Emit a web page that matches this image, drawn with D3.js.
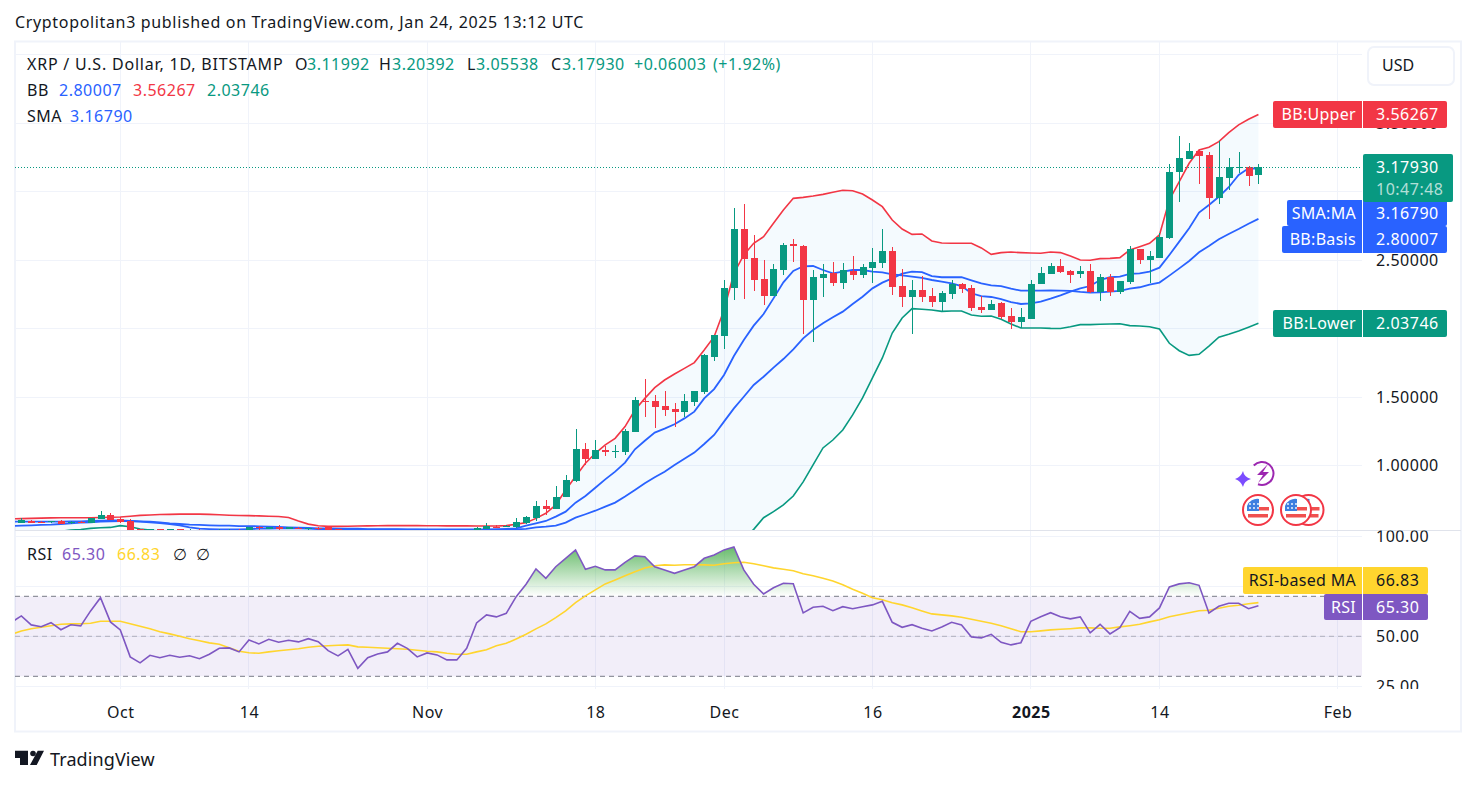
<!DOCTYPE html>
<html>
<head>
<meta charset="utf-8">
<script src="https://d3js.org/d3.v7.min.js"></script>
<style>
  html, body { margin: 0; background: #fff; }
  text { font-family: "Noto Sans", sans-serif; }
</style>
</head>
<body>
<script>
// daily candles, 20 Sep 2024 to 24 Jan 2025
var firstDay = Date.UTC(2024, 8, 20);
var lastDay = Date.UTC(2025, 0, 24);

var opens = [
  .585,.583,.595,.590,.587,.595,.578,.590,.583,.609,.639,
  .609,.592,.535,.520,.533,.525,.533,.525,.532,.520,.525,.525,.531,.531,.548,.539,.548,.539,.547,.535,.543,.548,.539,.515,.523,.505,.512,.518,.510,.520,.513,
  .505,.500,.498,.490,.500,.520,.539,.551,.554,.554,.580,.619,.704,.683,.770,.887,1.120,1.047,1.113,1.099,1.099,1.245,1.471,1.471,1.434,1.412,1.391,1.464,1.537,1.792,
  1.945,2.296,2.726,2.515,2.361,2.237,2.427,2.617,2.602,2.208,2.369,2.405,2.332,2.420,2.391,2.442,2.478,2.566,2.310,2.230,2.281,2.237,2.193,2.252,2.325,2.296,2.157,2.135,2.186,2.091,2.048,
  2.069,2.325,2.398,2.456,2.420,2.398,2.420,2.267,2.376,2.267,2.340,2.580,2.500,2.515,2.661,3.142,3.237,3.296,3.267,2.953,3.099,3.172,3.179,3.11992
];
var highs = [
  .600,.614,.602,.595,.597,.600,.595,.595,.620,.670,.653,
  .626,.607,.540,.538,.536,.538,.540,.534,.534,.532,.533,.535,.533,.552,.558,.553,.563,.553,.553,.546,.548,.551,.540,.532,.528,.515,.522,.520,.525,.522,.515,
  .510,.505,.500,.505,.520,.551,.578,.563,.566,.614,.631,.741,.748,.850,.931,1.266,1.164,1.186,1.142,1.150,1.266,1.500,1.631,1.515,1.544,1.456,1.522,1.544,1.814,1.953,
  2.354,2.880,2.909,2.682,2.500,2.471,2.624,2.653,2.610,2.427,2.471,2.485,2.478,2.529,2.471,2.588,2.726,2.595,2.434,2.354,2.383,2.296,2.274,2.354,2.332,2.318,2.237,2.208,2.193,2.150,2.150,
  2.354,2.449,2.478,2.507,2.427,2.456,2.471,2.398,2.398,2.347,2.602,2.580,2.566,2.697,3.201,3.405,3.354,3.303,3.288,3.369,3.245,3.288,3.186,3.20392
];
var lows = [
  .575,.583,.578,.580,.582,.573,.575,.580,.580,.609,.602,
  .583,.520,.500,.515,.520,.520,.520,.520,.510,.510,.520,.520,.520,.531,.525,.535,.525,.535,.535,.530,.525,.525,.515,.510,.490,.500,.510,.500,.508,.510,.500,
  .495,.495,.485,.485,.495,.515,.535,.544,.550,.544,.573,.597,.639,.683,.770,.880,1.004,1.047,1.069,1.055,1.077,1.245,1.354,1.274,1.361,1.281,1.354,1.434,1.522,1.763,
  1.850,2.208,2.215,2.274,2.172,2.237,2.391,2.485,1.960,1.901,2.230,2.310,2.288,2.354,2.369,2.332,2.442,2.245,2.157,1.960,2.193,2.157,2.128,2.215,2.259,2.128,2.113,2.135,2.069,1.996,2.004,
  2.069,2.325,2.398,2.405,2.332,2.369,2.257,2.201,2.237,2.252,2.325,2.471,2.330,2.515,2.653,2.923,3.237,3.055,2.799,2.909,3.011,3.135,3.040,3.05538
];
var closes = [
  .598,.602,.583,.585,.592,.575,.590,.583,.617,.639,.602,
  .590,.529,.525,.534,.525,.533,.525,.530,.525,.528,.528,.530,.527,.548,.541,.548,.539,.548,.539,.543,.535,.529,.525,.525,.505,.512,.518,.510,.520,.513,.505,
  .500,.498,.490,.500,.515,.544,.561,.546,.561,.585,.624,.704,.683,.770,.894,1.120,1.047,1.113,1.101,1.106,1.252,1.478,1.464,1.427,1.405,1.391,1.471,1.544,1.807,1.953,
  2.296,2.726,2.507,2.354,2.237,2.434,2.610,2.602,2.208,2.376,2.398,2.332,2.427,2.391,2.449,2.485,2.566,2.303,2.230,2.281,2.230,2.193,2.259,2.325,2.288,2.150,2.135,2.179,2.084,2.048,2.084,
  2.325,2.405,2.456,2.412,2.391,2.420,2.264,2.376,2.267,2.347,2.580,2.500,2.529,2.668,3.142,3.245,3.296,3.259,2.953,3.106,3.179,3.179,3.113,3.17930
];

var bbUpper = [
  .611,.612,.614,.616,.618,.619,.619,.619,.619,.620,.622,
  .624,.630,.636,.639,.642,.643,.645,.646,.645,.643,.640,.637,.635,.634,.632,.630,.628,.620,.595,.572,.560,.556,.556,.557,.558,.559,.560,.561,.561,.561,.561,
  .560,.560,.559,.559,.559,.558,.558,.558,.561,.571,.583,.614,.651,.712,.821,.919,1.016,1.089,1.150,1.198,1.284,1.405,1.490,1.568,1.624,1.668,1.709,1.751,1.843,1.940,
  2.135,2.403,2.537,2.622,2.670,2.768,2.865,2.950,2.957,2.967,2.979,2.994,3.009,3.006,2.982,2.938,2.889,2.792,2.726,2.687,2.690,2.639,2.624,2.622,2.622,2.622,2.588,2.541,2.554,2.558,2.554,
  2.551,2.549,2.558,2.554,2.529,2.500,2.498,2.510,2.512,2.517,2.573,2.597,2.622,2.683,2.938,3.072,3.206,3.303,3.323,3.364,3.430,3.486,3.527,3.56267
];
var bbBasis = [
  .558,.561,.563,.566,.568,.573,.578,.583,.585,.590,.592,
  .595,.595,.592,.590,.585,.578,.573,.568,.566,.563,.561,.561,.558,.558,.556,.553,.551,.549,.546,.544,.541,.541,.539,.539,.539,.536,.536,.536,.536,.534,.534,
  .534,.534,.534,.534,.534,.534,.534,.533,.532,.534,.537,.549,.554,.561,.583,.619,.644,.670,.700,.729,.773,.821,.870,.914,.955,1.004,1.050,1.094,1.157,1.223,
  1.320,1.417,1.502,1.588,1.648,1.714,1.777,1.848,1.928,1.989,2.038,2.082,2.123,2.179,2.232,2.293,2.335,2.366,2.400,2.415,2.412,2.383,2.374,2.374,2.374,2.352,2.330,2.315,2.310,2.291,2.276,
  2.276,2.276,2.279,2.276,2.274,2.267,2.262,2.264,2.269,2.274,2.291,2.301,2.320,2.335,2.386,2.439,2.493,2.556,2.602,2.651,2.690,2.726,2.765,2.80007
];
var bbLower = [
  .498,.500,.505,.510,.515,.520,.529,.533,.541,.546,.548,
  .561,.553,.536,.529,.520,.515,.512,.510,.510,.510,.510,.512,.512,.512,.515,.515,.515,.515,.515,.515,.514,.512,.510,.508,.505,.503,.502,.500,.500,.500,.500,
  .500,.500,.500,.500,.500,.500,.500,.498,.495,.490,.480,.470,.460,.445,.420,.400,.380,.365,.350,.340,.335,.320,.310,.300,.300,.300,.305,.310,.315,.320,
  .330,.380,.460,.534,.619,.663,.712,.777,.880,1.004,1.128,1.186,1.259,1.369,1.493,1.639,1.785,1.967,2.077,2.145,2.140,2.135,2.125,2.128,2.128,2.099,2.089,2.091,2.067,2.033,2.004,
  2.004,2.004,2.001,2.000,2.013,2.028,2.028,2.031,2.033,2.035,2.021,2.018,2.013,1.996,1.892,1.838,1.804,1.812,1.872,1.936,1.958,1.982,2.009,2.03746
];
var smaLine = [
  .590,.590,.590,.590,.590,.590,.592,.592,.595,.597,.600,
  .600,.595,.590,.585,.580,.573,.563,.549,.539,.536,.534,.534,.534,.536,.539,.539,.541,.541,.541,.539,.536,.536,.534,.534,.531,.531,.531,.531,.531,.531,.531,
  .530,.530,.530,.530,.530,.530,.530,.533,.537,.541,.561,.578,.595,.627,.663,.729,.777,.838,.899,.955,1.021,1.118,1.181,1.240,1.269,1.301,1.344,1.393,1.490,1.558,
  1.661,1.799,1.916,2.021,2.106,2.220,2.337,2.420,2.454,2.456,2.427,2.403,2.415,2.427,2.427,2.415,2.410,2.395,2.388,2.378,2.369,2.354,2.342,2.330,2.310,2.257,2.237,2.230,2.215,2.193,2.179,
  2.184,2.196,2.218,2.242,2.269,2.293,2.310,2.354,2.374,2.378,2.398,2.403,2.415,2.444,2.537,2.634,2.731,2.846,2.902,2.962,3.031,3.121,3.169,3.16790
];

var rsiLine = [
  57.0,60.2,55.7,54.8,56.8,53.3,55.8,55.2,62.7,69.3,57.2,
  53.2,39.7,36.7,40.5,39.3,40.5,39.5,40.3,38.8,41.0,44.0,44.2,42.2,48.2,46.2,48.5,47.0,48.0,47.2,48.8,47.3,42.8,40.2,43.5,34.0,39.3,41.2,42.2,46.5,44.0,39.7,
  41.7,40.7,38.2,38.2,44.0,56.7,60.7,59.7,61.5,69.8,76.0,83.7,79.0,84.8,89.0,93.2,83.5,85.0,83.2,83.2,87.0,90.2,89.8,84.8,83.2,81.5,83.2,84.8,89.0,90.7,
  93.2,94.7,83.2,76.0,71.2,74.3,76.5,76.3,61.7,64.5,65.0,62.8,64.8,63.8,64.8,65.7,67.5,57.0,54.5,55.8,54.0,52.7,54.7,57.0,55.7,49.7,49.2,51.0,47.0,45.7,46.8,
  57.5,59.8,61.8,59.8,58.7,59.7,51.7,56.0,51.2,54.3,62.5,59.0,59.7,64.2,74.7,76.2,76.8,75.5,61.7,65.0,66.5,66.5,63.8,65.30
];
var rsiMa = [
  51.0,52.7,53.8,54.5,55.3,56.0,56.2,56.3,56.5,57.5,57.5,
  57.5,56.3,55.0,53.8,52.3,51.2,50.0,48.8,47.8,46.7,46.0,44.3,42.5,41.8,41.5,42.2,42.8,43.3,43.8,44.5,45.0,45.3,45.5,45.7,44.7,44.5,44.3,44.0,43.8,43.5,43.0,
  42.5,42.2,41.5,41.0,41.0,42.2,43.3,45.3,46.5,48.7,51.0,53.7,56.2,59.3,62.7,66.8,70.2,73.2,76.2,78.2,80.3,82.3,84.2,85.3,85.7,85.5,85.8,85.8,85.7,85.5,
  86.3,86.8,87.0,86.3,85.3,84.2,83.5,82.8,81.3,80.3,79.0,77.7,75.8,73.5,71.5,69.3,68.3,66.8,65.7,64.3,62.7,61.2,60.7,60.2,59.5,58.5,57.5,56.5,55.3,53.8,52.3,
  52.3,52.7,53.2,53.5,53.8,54.2,54.2,54.0,54.0,54.7,55.3,56.0,57.2,58.3,59.8,60.8,61.8,62.8,63.0,64.0,65.0,65.5,66.3,66.83
];

var priceGrid = [4, 3.5, 3, 2.5, 2, 1.5, 1, 0.5];
var priceLabels = [3.5, 2.5, 1.5, 1];
var rsiGrid = [100, 75, 50, 25];
var rsiLabels = [100, 50, 25];
var rsiLevels = [70, 50, 30];
var timeTicks = [Date.UTC(2024,9,1), Date.UTC(2024,9,14), Date.UTC(2024,10,1), Date.UTC(2024,10,18), Date.UTC(2024,11,1), Date.UTC(2024,11,16), Date.UTC(2025,0,1), Date.UTC(2025,0,14), Date.UTC(2025,1,1)];
var timeLabels = ["Oct", "14", "Nov", "18", "Dec", "16", "2025", "14", "Feb"];

var green = "#089981", red = "#f23645", blue = "#2962ff", purple = "#7e57c2", yellow = "#ffd52e", ink = "#131722", grid = "#f0f3fa";

var days = d3.utcDay.range(firstDay, lastDay + 864e5);
var candles = days.map(function (d, i) {
  return { day: d, o: opens[i], h: highs[i], l: lows[i], c: closes[i] };
});

var paneLeft = 15, paneRight = 1362, paneTop = 42, split = 530.5, paneBottom = 689;

var svg = d3.select("body").append("svg").attr("width", 1476).attr("height", 785).style("display", "block");

var x = d3.scaleUtc().domain([Date.UTC(2024,9,1), Date.UTC(2025,1,1)]).range([120.3, 1337.6]);
var yPrice = d3.scaleLinear().domain([0.5, 4]).range([534, 54.5]);
var yRsi = d3.scaleLinear().domain([25, 100]).range([686.3, 536.3]);

var defs = svg.append("defs");
function clip(id, cx, cy, cw, ch) {
  defs.append("clipPath").attr("id", id).append("rect").attr("x", cx).attr("y", cy).attr("width", cw).attr("height", ch);
}
clip("pricePane", paneLeft, paneTop, paneRight - paneLeft, split - paneTop);
clip("rsiPane", paneLeft, split, paneRight - paneLeft, paneBottom - split);
clip("priceScale", paneRight, paneTop, 99, split - paneTop);
clip("rsiScale", paneRight, split, 99, paneBottom - split);
clip("overbought", paneLeft, split, paneRight - paneLeft, yRsi(70) - split);
var grad = defs.append("linearGradient").attr("id", "obFill").attr("gradientUnits", "userSpaceOnUse")
  .attr("x1", 0).attr("x2", 0).attr("y1", yRsi(95)).attr("y2", yRsi(70));
grad.append("stop").attr("offset", 0).attr("stop-color", "#4caf50").attr("stop-opacity", 0.85);
grad.append("stop").attr("offset", 1).attr("stop-color", "#4caf50").attr("stop-opacity", 0);

// frame
svg.append("rect").attr("x", 15).attr("y", 41.5).attr("width", 1446).attr("height", 690).attr("fill", "none").attr("stroke", grid).attr("stroke-width", 2);

// grid
var gridLayer = svg.append("g").attr("stroke", grid).attr("shape-rendering", "crispEdges");
gridLayer.selectAll(".v").data(timeTicks).join("line").attr("class", "v")
  .attr("x1", function (d) { return x(d); }).attr("x2", function (d) { return x(d); }).attr("y1", paneTop).attr("y2", paneBottom);
gridLayer.append("g").attr("clip-path", "url(#pricePane)").selectAll("line").data(priceGrid).join("line")
  .attr("x1", paneLeft).attr("x2", paneRight).attr("y1", function (d) { return yPrice(d); }).attr("y2", function (d) { return yPrice(d); });
gridLayer.append("g").attr("clip-path", "url(#rsiPane)").selectAll("line").data(rsiGrid).join("line")
  .attr("x1", paneLeft).attr("x2", paneRight).attr("y1", function (d) { return yRsi(d); }).attr("y2", function (d) { return yRsi(d); });

// price pane
var price = svg.append("g").attr("clip-path", "url(#pricePane)");
var band = d3.area().x(function (d) { return x(d); })
  .y0(function (d, i) { return yPrice(bbLower[i]); }).y1(function (d, i) { return yPrice(bbUpper[i]); });
price.append("path").datum(days).attr("d", band).attr("fill", "#2196f3").attr("fill-opacity", 0.05);

function priceLine(values, color, width) {
  var line = d3.line().x(function (d) { return x(d); }).y(function (d, i) { return yPrice(values[i]); });
  price.append("path").datum(days).attr("d", line).attr("fill", "none").attr("stroke", color).attr("stroke-width", width);
}
priceLine(bbUpper, red, 1.6);
priceLine(bbLower, green, 1.6);
priceLine(bbBasis, blue, 1.8);
priceLine(smaLine, blue, 1.8);

var candle = price.selectAll(".candle").data(candles).join("g").attr("class", "candle")
  .attr("fill", function (d) { return d.c >= d.o ? green : red; })
  .attr("stroke", function (d) { return d.c >= d.o ? green : red; })
  .attr("shape-rendering", "crispEdges");
candle.append("line")
  .attr("x1", function (d) { return Math.round(x(d.day)) + 0.5; }).attr("x2", function (d) { return Math.round(x(d.day)) + 0.5; })
  .attr("y1", function (d) { return yPrice(d.h); }).attr("y2", function (d) { return yPrice(d.l); });
candle.append("rect").attr("stroke", "none")
  .attr("x", function (d) { return Math.round(x(d.day)) - 3; }).attr("width", 7)
  .attr("y", function (d) { return yPrice(Math.max(d.o, d.c)); })
  .attr("height", function (d) { return Math.max(1, Math.abs(yPrice(d.o) - yPrice(d.c))); });

// last price
var lastY = Math.round(yPrice(closes[closes.length - 1])) + 0.5;
price.append("line").attr("x1", paneLeft).attr("x2", paneRight).attr("y1", lastY).attr("y2", lastY)
  .attr("stroke", green).attr("stroke-dasharray", "1 2").attr("shape-rendering", "crispEdges");

// rsi pane
var rsi = svg.append("g").attr("clip-path", "url(#rsiPane)");
rsi.append("rect").attr("x", paneLeft).attr("width", paneRight - paneLeft).attr("y", yRsi(70)).attr("height", yRsi(30) - yRsi(70)).attr("fill", purple).attr("fill-opacity", 0.1);
rsi.selectAll(".level").data(rsiLevels).join("line").attr("class", "level")
  .attr("x1", paneLeft).attr("x2", paneRight).attr("y1", function (d) { return yRsi(d); }).attr("y2", function (d) { return yRsi(d); })
  .attr("stroke", "#787b86").attr("stroke-dasharray", "5 4").attr("stroke-opacity", function (d) { return d === 50 ? 0.5 : 1; });
var obArea = d3.area().x(function (d) { return x(d); }).y0(yRsi(70)).y1(function (d, i) { return yRsi(rsiLine[i]); });
rsi.append("g").attr("clip-path", "url(#overbought)").append("path").datum(days).attr("d", obArea).attr("fill", "url(#obFill)");
var rsiPath = d3.line().x(function (d) { return x(d); }).y(function (d, i) { return yRsi(rsiLine[i]); });
var maPath = d3.line().x(function (d) { return x(d); }).y(function (d, i) { return yRsi(rsiMa[i]); });
rsi.append("path").datum(days).attr("d", maPath).attr("fill", "none").attr("stroke", yellow).attr("stroke-width", 1.6);
rsi.append("path").datum(days).attr("d", rsiPath).attr("fill", "none").attr("stroke", purple).attr("stroke-width", 1.6);

// pane separator
svg.append("line").attr("x1", paneLeft).attr("x2", 1461).attr("y1", split).attr("y2", split).attr("stroke", "#e0e3eb");

// axes
function tidy(g) {
  g.select(".domain").remove();
  g.selectAll("text").attr("fill", ink).style("font-size", "16px").style("letter-spacing", "0.5px").style("font-family", '"Noto Sans", sans-serif');
}
svg.append("g").attr("clip-path", "url(#priceScale)").append("g").attr("transform", "translate(1376,0)")
  .call(d3.axisRight(yPrice).tickValues(priceLabels).tickSize(0).tickPadding(0).tickFormat(d3.format(".5f"))).call(tidy);
svg.append("g").attr("clip-path", "url(#rsiScale)").append("g").attr("transform", "translate(1376,0.5)")
  .call(d3.axisRight(yRsi).tickValues(rsiLabels).tickSize(0).tickPadding(0).tickFormat(d3.format(".2f"))).call(tidy);
svg.append("g").attr("transform", "translate(0,706.5)")
  .call(d3.axisBottom(x).tickValues(timeTicks).tickSize(0).tickPadding(0).tickFormat(function (d, i) { return timeLabels[i]; })).call(tidy)
  .selectAll("text").style("font-weight", function (d, i) { return timeLabels[i] === "2025" ? 700 : 400; });

function label(tx, ty, txt, color, spacing, size, anchor, weight) {
  return svg.append("text").attr("x", tx).attr("y", ty).attr("dy", "0.35em").attr("fill", color).attr("text-anchor", anchor || "start")
    .style("font-size", (size || 16) + "px").style("font-weight", weight || 400).style("letter-spacing", (spacing || 0) + "px").text(txt);
}
function tag(name, value, bg, fg, nameX, y0, y1, endX) {
  svg.append("path").attr("d", "M" + (nameX + 2) + "," + y0 + "H1362V" + y1 + "H" + (nameX + 2) + "Q" + nameX + "," + y1 + " " + nameX + "," + (y1 - 2) + "V" + (y0 + 2) + "Q" + nameX + "," + y0 + " " + (nameX + 2) + "," + y0 + "Z").attr("fill", bg);
  svg.append("path").attr("d", "M1363," + y0 + "H" + (endX - 2) + "Q" + endX + "," + y0 + " " + endX + "," + (y0 + 2) + "V" + (y1 - 2) + "Q" + endX + "," + y1 + " " + (endX - 2) + "," + y1 + "H1363Z").attr("fill", bg);
  label(1356, (y0 + y1) / 2, name, fg, 0.3, 16, "end");
  label(1376, (y0 + y1) / 2, value, fg, 0.5);
}

// price scale tags
tag("BB:Upper", "3.56267", red, "#fff", 1273, 101, 128, 1447);
tag("BB:Lower", "2.03746", green, "#fff", 1273, 310, 337, 1447);
tag("SMA:MA", "3.16790", blue, "#fff", 1287, 200, 226, 1447);
tag("BB:Basis", "2.80007", blue, "#fff", 1282, 226, 253, 1447);
svg.append("rect").attr("x", 1363).attr("y", 154).attr("width", 90).attr("height", 48).attr("rx", 2).attr("fill", green);
label(1376, 167, "3.17930", "#fff", 0.5);
label(1376, 189, "10:47:48", "#fff", 0.5).attr("fill-opacity", 0.7);

// rsi scale tags
tag("RSI-based MA", "66.83", yellow, ink, 1243, 567, 594, 1428);
tag("RSI", "65.30", purple, "#fff", 1324, 594, 620, 1428);

// currency button
svg.append("rect").attr("x", 1368).attr("y", 47).attr("width", 86).attr("height", 38).attr("rx", 6).attr("fill", "#fff").attr("stroke", grid).attr("stroke-width", 2);
label(1382, 65.5, "USD", ink);

// header and legends
label(15, 22, "Cryptopolitan3 published on TradingView.com, Jan 24, 2025 13:12 UTC", ink, 0.66);
label(27, 64, "XRP / U.S. Dollar, 1D, BITSTAMP", ink, 0.8);
[["O", 295, ink], ["3.11992", 307, green], ["H", 379, ink], ["3.20392", 392, green], ["L", 467, ink], ["3.05538", 476, green],
 ["C", 551, ink], ["3.17930", 562, green], ["+0.06003", 634, green], ["(+1.92%)", 713, green]].forEach(function (t) { label(t[1], 64, t[0], t[2], 0.5); });
label(27, 90, "BB", ink, 0.5); label(59, 90, "2.80007", blue, 0.5); label(133, 90, "3.56267", red, 0.5); label(207, 90, "2.03746", green, 0.5);
label(27, 116, "SMA", ink, 0.5); label(70, 116, "3.16790", blue, 0.5);
label(27, 554, "RSI", ink, 0.5); label(62, 554, "65.30", purple, 0.5); label(117, 554, "66.83", yellow, 0.5); label(173, 554, "∅", ink); label(196, 554, "∅", ink);

// event icons
function flag(cx) {
  var g = svg.append("g").attr("transform", "translate(" + cx + ",510)");
  g.append("circle").attr("r", 15).attr("fill", "#fff").attr("stroke", red).attr("stroke-width", 2);
  g.append("path").attr("d", "M-11,-3H11V0.5H-11ZM-10,4H10V7.5H-10Z").attr("fill", "#f0504f");
  g.append("path").attr("d", "M-11,1V-4A11,11 0 0 1 1,-11V1Z").attr("fill", "#3d7fe0");
  [-7, -3, 1].forEach(function (dy) {
    [-8, -4, 0].forEach(function (dx) {
      g.append("circle").attr("cx", dx).attr("cy", dy + 1).attr("r", 0.9).attr("fill", "#fff");
    });
  });
}
flag(1308.5); flag(1296); flag(1258);
svg.append("path").attr("d", d3.arc()({ innerRadius: 10.5, outerRadius: 12.5, startAngle: -0.8, endAngle: 3.5 })).attr("transform", "translate(1262,473.5)").attr("fill", "#9c27b0");
svg.append("path").attr("d", "M1268,464L1257,475H1263L1258,483L1269,472H1263Z").attr("fill", "#9c27b0");
svg.append("path").attr("d", "M1243,471Q1244,477 1251,479Q1244,481 1243,487Q1241,481 1235,479Q1241,477 1243,471Z").attr("fill", "#7c4dff");

// footer mark
svg.append("path").attr("d", "M15,750.7H28V765H20V758H15ZM37.7,750.7H44L36.7,765H30Z").attr("fill", ink);
svg.append("circle").attr("cx", 33).attr("cy", 753.5).attr("r", 2.8).attr("fill", ink);
label(50, 759.5, "TradingView", ink, 0.1, 18, "start", 400);
</script>
</body>
</html>
